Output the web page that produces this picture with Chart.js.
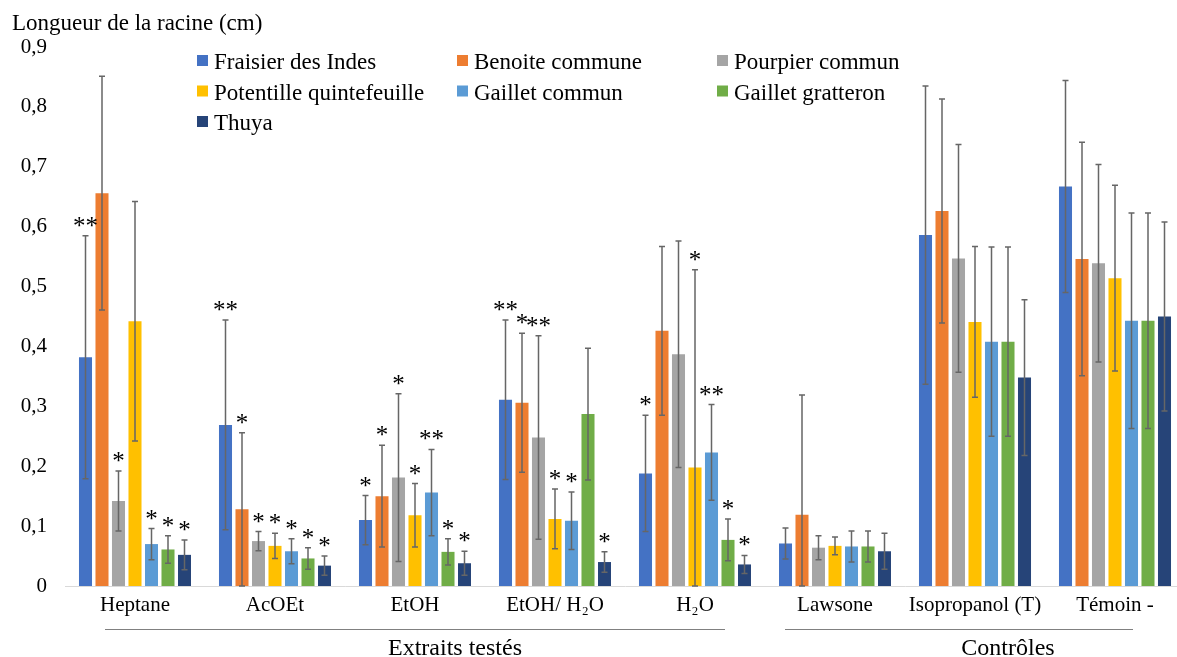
<!DOCTYPE html>
<html>
<head>
<meta charset="utf-8">
<script src="https://cdn.jsdelivr.net/npm/chart.js"></script>
<style>
  body { margin: 0; overflow: hidden; background: #fff; }
  #zone { width: 1185px; height: 657px; }
</style>
</head>
<body>
<div id="zone"><canvas id="graphique" width="1185" height="657"></canvas></div>
<script>
const categories = ["Heptane", "AcOEt", "EtOH", "EtOH/ H₂O", "H₂O", "Lawsone", "Isopropanol (T)", "Témoin -"];
const yTicks = [0, 0.1, 0.2, 0.3, 0.4, 0.5, 0.6, 0.7, 0.8, 0.9];

const especes = ["Fraisier des Indes", "Benoite commune", "Pourpier commun",
  "Potentille quintefeuille", "Gaillet commun", "Gaillet gratteron", "Thuya"];
const couleurs = ["#4472C4", "#ED7D31", "#A5A5A5", "#FFC000", "#5B9BD5", "#70AD47", "#264478"];

// moyennes, ecarts-types et significativite par espece
const fraisier = [0.382, 0.269, 0.110, 0.311, 0.188, 0.071, 0.586, 0.667];
const fraisierErr = [0.203, 0.175, 0.041, 0.133, 0.097, 0.026, 0.249, 0.177];
const fraisierSig = ["**", "**", "*", "**", "*", "", "", ""];

const benoite = [0.656, 0.128, 0.150, 0.306, 0.426, 0.119, 0.626, 0.546];
const benoiteErr = [0.195, 0.128, 0.085, 0.116, 0.141, 0.200, 0.187, 0.195];
const benoiteSig = ["", "*", "*", "*", "", "", "", ""];

const pourpier = [0.142, 0.075, 0.181, 0.248, 0.387, 0.064, 0.547, 0.539];
const pourpierErr = [0.050, 0.016, 0.140, 0.170, 0.189, 0.020, 0.190, 0.165];
const pourpierSig = ["*", "*", "*", "**", "", "", "", ""];

const potentille = [0.442, 0.067, 0.118, 0.112, 0.198, 0.067, 0.441, 0.514];
const potentilleErr = [0.200, 0.021, 0.053, 0.050, 0.330, 0.015, 0.126, 0.155];
const potentilleSig = ["", "*", "*", "*", "*", "", "", ""];

const gailletCommun = [0.070, 0.058, 0.156, 0.109, 0.223, 0.066, 0.408, 0.443];
const gailletCommunErr = [0.026, 0.021, 0.072, 0.048, 0.080, 0.026, 0.158, 0.180];
const gailletCommunSig = ["*", "*", "**", "*", "**", "", "", ""];

const gratteron = [0.061, 0.046, 0.057, 0.287, 0.077, 0.066, 0.408, 0.443];
const gratteronErr = [0.023, 0.018, 0.022, 0.110, 0.035, 0.026, 0.158, 0.180];
const gratteronSig = ["*", "*", "*", "", "*", "", "", ""];

const thuya = [0.052, 0.034, 0.038, 0.040, 0.036, 0.058, 0.348, 0.450];
const thuyaErr = [0.025, 0.016, 0.020, 0.017, 0.015, 0.030, 0.130, 0.158];
const thuyaSig = ["*", "*", "*", "*", "*", "", "", ""];

const valeurs = [fraisier, benoite, pourpier, potentille, gailletCommun, gratteron, thuya];
const erreurs = [fraisierErr, benoiteErr, pourpierErr, potentilleErr, gailletCommunErr, gratteronErr, thuyaErr];
const signif = [fraisierSig, benoiteSig, pourpierSig, potentilleSig, gailletCommunSig, gratteronSig, thuyaSig];

const serif = '"Liberation Serif", "Times New Roman", serif';

// barres d'erreur + etoiles
const barresErreur = {
  id: "barresErreur",
  afterDatasetsDraw(chart) {
    const ctx = chart.ctx;
    const y = chart.scales.y;
    chart.data.datasets.forEach((ds, i) => {
      chart.getDatasetMeta(i).data.forEach((bar, j) => {
        const v = ds.data[j];
        const e = ds.erreurs[j];
        const haut = y.getPixelForValue(v + e);
        const bas = y.getPixelForValue(Math.max(0, v - e));
        ctx.save();
        ctx.strokeStyle = "#666666";
        ctx.lineWidth = 1.5;
        ctx.beginPath();
        ctx.moveTo(bar.x, haut); ctx.lineTo(bar.x, bas);
        ctx.moveTo(bar.x - 3, haut); ctx.lineTo(bar.x + 3, haut);
        ctx.moveTo(bar.x - 3, bas); ctx.lineTo(bar.x + 3, bas);
        ctx.stroke();
        if (ds.signif[j]) {
          ctx.fillStyle = "#000";
          ctx.font = "25px " + serif;
          ctx.textAlign = "center";
          ctx.textBaseline = "alphabetic";
          ctx.fillText(ds.signif[j], bar.x, haut - 2);
        }
        ctx.restore();
      });
    });
  }
};

// titre, legende en grille et regroupements sous l'axe
const decor = {
  id: "decor",
  afterDraw(chart) {
    const ctx = chart.ctx;
    ctx.save();
    ctx.fillStyle = "#000";
    ctx.textBaseline = "alphabetic";
    ctx.textAlign = "left";
    ctx.font = "23px " + serif;
    ctx.fillText("Longueur de la racine (cm)", 12, 30);

    const colX = [197, 457, 717];
    especes.forEach((nom, i) => {
      const x = colX[i % 3];
      const yb = 69 + Math.floor(i / 3) * 30.5;
      ctx.fillStyle = couleurs[i];
      ctx.fillRect(x, yb - 14, 11, 11);
      ctx.fillStyle = "#000";
      ctx.fillText(nom, x + 17, yb);
    });

    ctx.strokeStyle = "#808080";
    ctx.lineWidth = 1;
    ctx.beginPath();
    ctx.moveTo(105, 629.5); ctx.lineTo(725, 629.5);
    ctx.moveTo(785, 629.5); ctx.lineTo(1133, 629.5);
    ctx.stroke();
    ctx.textAlign = "center";
    ctx.font = "24px " + serif;
    ctx.fillText("Extraits testés", 455, 655);
    ctx.fillText("Contrôles", 1008, 655);
    ctx.restore();
  }
};

const local = document.querySelector("#graphique");

let dados = {
  labels: categories,
  datasets: especes.map((nom, i) => ({
    label: nom,
    data: valeurs[i],
    erreurs: erreurs[i],
    signif: signif[i],
    backgroundColor: couleurs[i],
    borderWidth: 0,
    categoryPercentage: 0.825,
    barPercentage: 0.79
  }))
};

new Chart(local, {
  type: "bar",
  data: dados,
  plugins: [barresErreur, decor],
  options: {
    responsive: false,
    animation: false,
    layout: { padding: { top: 47, left: 0, right: 0, bottom: 0 } },
    plugins: {
      legend: { display: false },
      tooltip: { enabled: false }
    },
    scales: {
      x: {
        grid: { display: false, drawTicks: false },
        border: { display: true, color: "#d9d9d9", width: 1 },
        ticks: { font: { family: serif, size: 21 }, color: "#000", padding: 7, maxRotation: 0, autoSkip: false },
        afterFit(scale) { scale.height = 71; }
      },
      y: {
        min: 0,
        max: 0.9,
        afterBuildTicks(scale) { scale.ticks = yTicks.map(v => ({ value: v })); },
        ticks: {
          font: { family: serif, size: 21 },
          color: "#000",
          padding: 18,
          callback: v => v === 0 ? "0" : v.toFixed(1).replace(".", ",")
        },
        grid: { display: false, drawTicks: false },
        border: { display: false },
        afterFit(scale) { scale.width = 65; }
      }
    }
  }
});
</script>
</body>
</html>
